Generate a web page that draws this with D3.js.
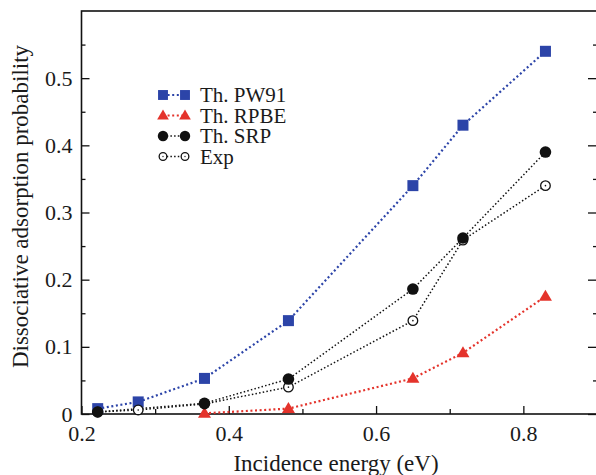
<!DOCTYPE html>
<html>
<head>
<meta charset="utf-8">
<script src="https://cdn.jsdelivr.net/npm/d3@7"></script>
<style>
  html, body { margin: 0; padding: 0; background: #fff; }
  svg { display: block; }
</style>
</head>
<body>
<svg id="chart" width="596" height="475"></svg>
<script>
// ---- data ----
const pw91X = [0.222, 0.277, 0.367, 0.481, 0.650, 0.718, 0.830];
const pw91Y = [0.008, 0.018, 0.053, 0.139, 0.340, 0.430, 0.540];

const rpbeX = [0.367, 0.481, 0.650, 0.718, 0.830];
const rpbeY = [0.001, 0.008, 0.053, 0.091, 0.175];

const srpX = [0.222, 0.367, 0.481, 0.650, 0.718, 0.830];
const srpY = [0.003, 0.016, 0.052, 0.186, 0.262, 0.390];

const expX = [0.222, 0.277, 0.367, 0.481, 0.650, 0.718, 0.830];
const expY = [0.003, 0.006, 0.015, 0.040, 0.139, 0.259, 0.340];

const seriesNames = ["Th. PW91", "Th. RPBE", "Th. SRP", "Exp"];
const xMajorTicks = [0.2, 0.4, 0.6, 0.8];
const xMinorTicks = [0.3, 0.5, 0.7];
const yMajorTicks = [0, 0.1, 0.2, 0.3, 0.4, 0.5];
const yMinorTicks = [0.05, 0.15, 0.25, 0.35, 0.45, 0.55];
const xTitle = "Incidence energy (eV)";
const yTitle = "Dissociative adsorption probability";

// ---- layout ----
const FONT = "'Liberation Serif', 'Times New Roman', Times, serif";
const svg = d3.select("#chart");
const pL = 81.5, pT = 11, pR = 597, pB = 414;
const x = d3.scaleLinear().domain([0.2, 0.9]).range([pL, pR]);
const y = d3.scaleLinear().domain([0, 0.6]).range([pB, pT]);

const BLUE = "#2c44a8", RED = "#e4332b", BLACK = "#111";

// frame
svg.append("rect").attr("x", pL).attr("y", pT)
  .attr("width", pR - pL).attr("height", pB - pT)
  .attr("fill", "none").attr("stroke", "#111").attr("stroke-width", 1.6);

function styleAxis(g, fs) {
  g.attr("font-family", null).attr("font-size", null);
  g.select(".domain").remove();
  g.selectAll(".tick line").attr("stroke", "#111").attr("stroke-width", 1.3);
  g.selectAll("text").style("font-family", FONT).style("font-size", fs + "px").attr("fill", "#1a1a1a");
}

// x axis
const gx = svg.append("g").attr("transform", `translate(0,${pB})`)
  .call(d3.axisBottom(x).tickValues(xMajorTicks).tickSize(-8).tickSizeOuter(0)
    .tickPadding(11).tickFormat(d3.format(".1f")));
styleAxis(gx, 22);
const gxm = svg.append("g").attr("transform", `translate(0,${pB})`)
  .call(d3.axisBottom(x).tickValues(xMinorTicks).tickSize(-5).tickFormat(""));
styleAxis(gxm, 22);

// y axis left
const gy = svg.append("g").attr("transform", `translate(${pL},0)`)
  .call(d3.axisLeft(y).tickValues(yMajorTicks).tickSize(-8).tickSizeOuter(0)
    .tickPadding(9).tickFormat(d => d === 0 ? "0" : d3.format(".1f")(d)));
styleAxis(gy, 22);
const gym = svg.append("g").attr("transform", `translate(${pL},0)`)
  .call(d3.axisLeft(y).tickValues(yMinorTicks).tickSize(-4).tickFormat(""));
styleAxis(gym, 22);

// y axis right (ticks only)
const gyr = svg.append("g").attr("transform", `translate(${pR},0)`)
  .call(d3.axisRight(y).tickValues(yMajorTicks).tickSize(-9).tickFormat(""));
styleAxis(gyr, 22);
const gyrm = svg.append("g").attr("transform", `translate(${pR},0)`)
  .call(d3.axisRight(y).tickValues(yMinorTicks).tickSize(-4).tickFormat(""));
styleAxis(gyrm, 22);

// titles
svg.append("text").attr("x", 336).attr("y", 471).attr("text-anchor", "middle")
  .style("font-family", FONT).style("font-size", "23px").attr("fill", "#1a1a1a").text(xTitle);
svg.append("text").attr("transform", `translate(28,${(pT + pB) / 2 - 6}) rotate(-90)`)
  .attr("text-anchor", "middle")
  .style("font-family", FONT).style("font-size", "23px").attr("fill", "#1a1a1a").text(yTitle);

// ---- series ----
const line = d3.line().x(d => x(d[0])).y(d => y(d[1]));
function pts(xs, ys) { return xs.map((v, i) => [v, ys[i]]); }

const series = [
  { name: seriesNames[0], data: pts(pw91X, pw91Y), color: BLUE, lw: 2.2, dash: "2,2.6", sym: "square" },
  { name: seriesNames[1], data: pts(rpbeX, rpbeY), color: RED, lw: 2.2, dash: "2,2.6", sym: "triangle" },
  { name: seriesNames[2], data: pts(srpX, srpY), color: BLACK, lw: 1.5, dash: "1.5,2.2", sym: "circle" },
  { name: seriesNames[3], data: pts(expX, expY), color: BLACK, lw: 1.5, dash: "1.5,2.2", sym: "open" }
];

function drawMarker(g, sym, cx, cy, color, scale) {
  const s = scale || 1;
  if (sym === "square") {
    const a = 11 * s;
    g.append("rect").attr("x", cx - a / 2).attr("y", cy - a / 2).attr("width", a).attr("height", a)
      .attr("fill", color);
  } else if (sym === "triangle") {
    const w = 13 * s, h = 11 * s;
    g.append("path").attr("d", `M${cx},${cy - h * 0.6}L${cx + w / 2},${cy + h * 0.4}L${cx - w / 2},${cy + h * 0.4}Z`)
      .attr("fill", color);
  } else if (sym === "circle") {
    g.append("circle").attr("cx", cx).attr("cy", cy).attr("r", 5.8 * s).attr("fill", color);
  } else {
    g.append("circle").attr("cx", cx).attr("cy", cy).attr("r", 4.8 * s).attr("fill", "#fff")
      .attr("stroke", color).attr("stroke-width", 1.3);
    g.append("circle").attr("cx", cx).attr("cy", cy).attr("r", 0.8 * s).attr("fill", color);
  }
}

// lines
series.forEach(s => {
  svg.append("path").datum(s.data).attr("d", line).attr("fill", "none")
    .attr("stroke", s.color).attr("stroke-width", s.lw).attr("stroke-dasharray", s.dash);
});
// markers (draw order: PW91, RPBE, Exp, SRP)
[0, 1, 3, 2].forEach(i => {
  const s = series[i];
  const g = svg.append("g");
  s.data.forEach(d => drawMarker(g, s.sym, x(d[0]), y(d[1]), s.color, 1));
});

// ---- legend ----
const lg = svg.append("g");
const legY0 = 95, legDy = 20.5, mx1 = 163, mx2 = 185, tx = 200;
series.forEach((s, i) => {
  const yy = legY0 + i * legDy;
  lg.append("line").attr("x1", mx1).attr("x2", mx2).attr("y1", yy).attr("y2", yy)
    .attr("stroke", s.color).attr("stroke-width", s.lw).attr("stroke-dasharray", s.dash);
  const sc = s.sym === "open" ? 0.8 : 0.9;
  drawMarker(lg, s.sym, mx1, yy, s.color, sc);
  drawMarker(lg, s.sym, mx2, yy, s.color, sc);
  lg.append("text").attr("x", tx).attr("y", yy + 7)
    .style("font-family", FONT).style("font-size", "21px").attr("fill", "#1a1a1a").text(s.name);
});
</script>
</body>
</html>
